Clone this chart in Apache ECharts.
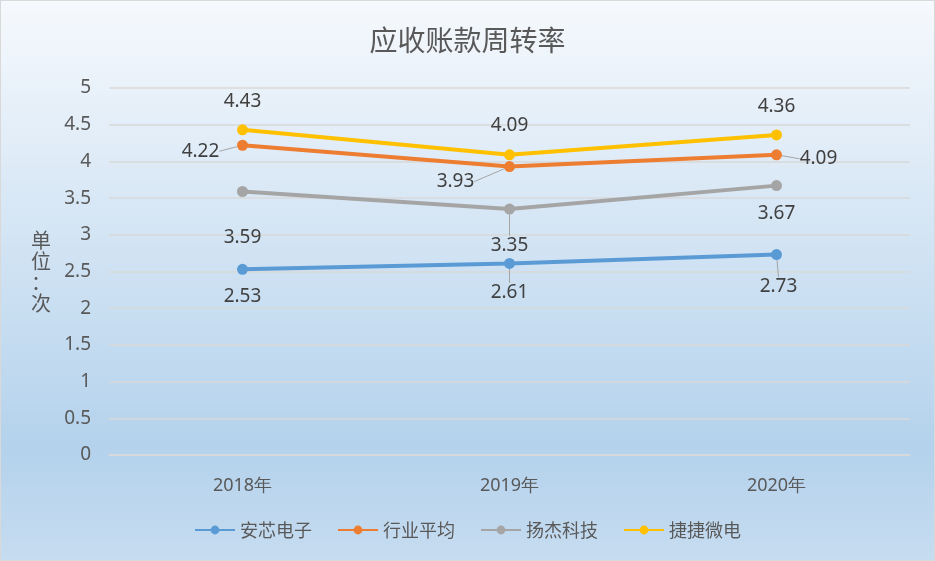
<!DOCTYPE html>
<html>
<head>
<meta charset="utf-8">
<script src="https://cdn.jsdelivr.net/npm/echarts@6/dist/echarts.min.js"></script>
<style>
  html, body { margin: 0; padding: 0; }
  #chart { width: 933px; height: 559px; border: 1px solid #d9d9d9; }
</style>
</head>
<body>
<div id="chart"></div>
<script>
var categories = ['2018年', '2019年', '2020年']
var anxin = [2.53, 2.61, 2.73]
var hangye = [4.22, 3.93, 4.09]
var yangjie = [3.59, 3.35, 3.67]
var jiejie = [4.43, 4.09, 4.36]

// label offsets per point, [dx, dy] relative to the point, and whether a leader line is drawn
var anxinLabel = [[0, 27, false], [0, 29, true], [2, 32, true]]
var hangyeLabel = [[-42, 6, true], [-54, 15, true], [42, 4, true]]
var yangjieLabel = [[0, 46, false], [0, 36, true], [0, 28, false]]
var jiejieLabel = [[0, -28, false], [0, -29, false], [0, -28, false]]

var myChart = echarts.init(document.getElementById('chart'))

function makeSeries(name, color, values, offsets) {
  var data = values.map(function (v, i) {
    return { value: v, labelLine: { show: offsets[i][2] } }
  })
  return {
    name: name,
    type: 'line',
    data: data,
    symbol: 'circle',
    symbolSize: 11,
    lineStyle: { width: 4, color: color },
    itemStyle: { color: color },
    label: {
      show: true,
      position: 'inside',
      color: '#404040',
      fontSize: 19,
      fontFamily: 'Noto Sans'
    },
    labelLine: {
      show: true,
      lineStyle: { color: '#a5a5a5', width: 1 }
    },
    labelLayout: function (p) {
      var o = offsets[p.dataIndex]
      return { dx: o[0], dy: o[1] }
    }
  }
}

var option = {
  backgroundColor: {
    type: 'linear', x: 0, y: 0, x2: 0, y2: 1,
    colorStops: [
      { offset: 0, color: '#f6f9fd' },
      { offset: 0.8, color: '#b4d2ec' },
      { offset: 1, color: '#c6dcf0' }
    ]
  },
  textStyle: { fontFamily: 'Noto Sans' },
  title: {
    text: '应收账款周转率',
    left: 'center',
    top: 20,
    textStyle: { fontSize: 28, fontWeight: 'normal', color: '#595959', fontFamily: 'Noto Sans CJK SC' }
  },
  legend: {
    bottom: 16,
    left: 'center',
    itemWidth: 40,
    itemHeight: 11,
    itemGap: 25,
    textStyle: { fontSize: 18, color: '#595959', fontFamily: 'Noto Sans CJK SC' },
    data: ['安芯电子', '行业平均', '扬杰科技', '捷捷微电']
  },
  grid: {
    left: 108,
    right: 24,
    top: 87,
    bottom: 105
  },
  xAxis: {
    type: 'category',
    data: categories,
    boundaryGap: true,
    axisLine: { show: true, lineStyle: { color: '#d9d9d9', width: 1.5 } },
    axisTick: { show: false },
    axisLabel: { color: '#595959', fontSize: 18, margin: 22, fontFamily: 'Noto Sans' }
  },
  yAxis: {
    type: 'value',
    min: 0,
    max: 5,
    interval: 0.5,
    name: '单\n位\n：\n次',
    nameLocation: 'middle',
    nameRotate: 0,
    nameGap: 58,
    nameTextStyle: { color: '#595959', fontSize: 20, lineHeight: 21, fontFamily: 'Noto Sans CJK SC' },
    axisLine: { show: false },
    axisTick: { show: false },
    splitLine: { lineStyle: { color: '#d9d9d9', width: 1.5 } },
    axisLabel: { color: '#595959', fontSize: 19, margin: 18, fontFamily: 'Noto Sans' }
  },
  series: [
    makeSeries('安芯电子', '#5b9bd5', anxin, anxinLabel),
    makeSeries('行业平均', '#ed7d31', hangye, hangyeLabel),
    makeSeries('扬杰科技', '#a5a5a5', yangjie, yangjieLabel),
    makeSeries('捷捷微电', '#ffc000', jiejie, jiejieLabel)
  ]
}

myChart.setOption(option)
</script>
</body>
</html>
